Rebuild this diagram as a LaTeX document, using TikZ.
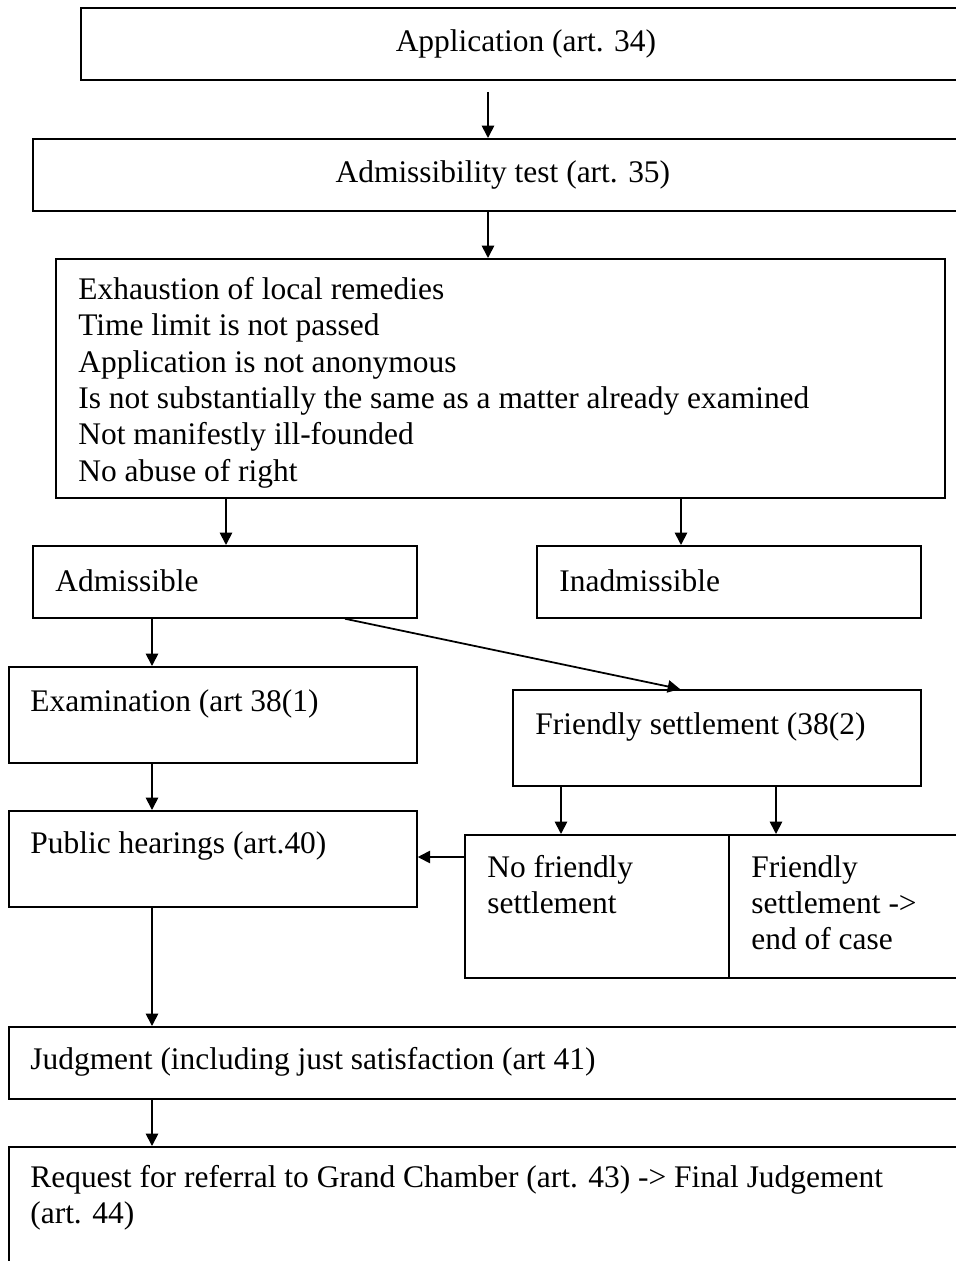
\documentclass[tikz,border=0pt]{standalone}
\usepackage{fontspec}
\setmainfont{Liberation Serif}
\usepackage{tikz}
\usetikzlibrary{positioning,arrows.meta}

\tikzset{
  box/.style 2 args={draw, line width=1pt, anchor=north west, inner sep=0pt,
    minimum width=#1*0.02cm, minimum height=#2*0.02cm},
  lbl/.style={anchor=north west, inner sep=0pt, align=left},
  arr/.style={line width=1pt, -{Triangle[length=7pt,width=7pt]}}
}

\begin{document}
\begin{tikzpicture}[x=0.02cm, y=-0.02cm, font=\fontsize{17.9}{20.7}\selectfont]
        \useasboundingbox (0,0) rectangle (956,1261);

        % Top boxes
        \node[box={890}{72}] (app) at (80,7) {Application (art. 34)};
        \node[box={940}{72}] (admt) at (32,138) {Admissibility test (art. 35)};

        % Conditions
        \node[box={889}{239}] (crit) at (55,258) {};
        \node[lbl, below right=0.38cm and 0.46cm of crit.north west] (crit-t)
          {Exhaustion of local remedies\\
           Time limit is not passed\\
           Application is not anonymous\\
           Is not substantially the same as a matter already examined\\
           Not manifestly ill-founded\\
           No abuse of right};

        % Decision
        \node[box={384}{72}] (adm) at (32,545) {};
        \node[lbl, below right=0.48cm and 0.46cm of adm.north west] (adm-t) {Admissible};
        \node[box={384}{72}] (inadm) at (536,545) {};
        \node[lbl, below right=0.48cm and 0.46cm of inadm.north west] (inadm-t) {Inadmissible};

        % Examination and settlement
        \node[box={408}{96}] (exam) at (8,666) {};
        \node[lbl, below right=0.46cm and 0.44cm of exam.north west] (exam-t) {Examination (art 38(1)};
        \node[box={408}{96}] (fs) at (512,689) {};
        \node[lbl, below right=0.46cm and 0.46cm of fs.north west] (fs-t) {Friendly settlement (38(2)};

        \node[box={408}{96}] (pub) at (8,810) {};
        \node[lbl, below right=0.42cm and 0.44cm of pub.north west] (pub-t) {Public hearings (art.40)};
        \node[box={264}{143}] (nofs) at (464,834) {};
        \node[lbl, below right=0.42cm and 0.46cm of nofs.north west] (nofs-t) {No friendly\\settlement};
        \node[box={260}{143}] (fsend) at (728,834) {};
        \node[lbl, below right=0.42cm and 0.46cm of fsend.north west] (fsend-t) {Friendly\\settlement ->\\end of case};

        % Judgment
        \node[box={970}{72}] (judg) at (8,1026) {};
        \node[lbl, below right=0.42cm and 0.44cm of judg.north west] (judg-t) {Judgment (including just satisfaction (art 41)};
        \node[box={970}{140}] (req) at (8,1146) {};
        \node[lbl, below right=0.38cm and 0.44cm of req.north west] (req-t)
          {Request for referral to Grand Chamber (art. 43) -> Final Judgement\\(art. 44)};

        % Connections
        \draw[arr, shorten <=0.22cm] (app.south -| 488,0) -- (admt.north -| 488,0);
        \draw[arr] (admt.south -| 488,0) -- (crit.north -| 488,0);
        \draw[arr] (crit.south -| 226,0) -- (adm.north -| 226,0);
        \draw[arr] (crit.south -| 681,0) -- (inadm.north -| 681,0);
        \draw[arr] (adm.south -| 152,0) -- (exam.north -| 152,0);
        \draw[arr] (adm.south -| 345,0) -- (fs.north -| 680,0);
        \draw[arr] (exam.south -| 152,0) -- (pub.north -| 152,0);
        \draw[arr] (fs.south -| 561,0) -- (nofs.north -| 561,0);
        \draw[arr] (fs.south -| 776,0) -- (fsend.north -| 776,0);
        \draw[arr] (nofs.west |- 0,857) -- (pub.east |- 0,857);
        \draw[arr] (pub.south -| 152,0) -- (judg.north -| 152,0);
        \draw[arr] (judg.south -| 152,0) -- (req.north -| 152,0);
    \end{tikzpicture}
\end{document}
